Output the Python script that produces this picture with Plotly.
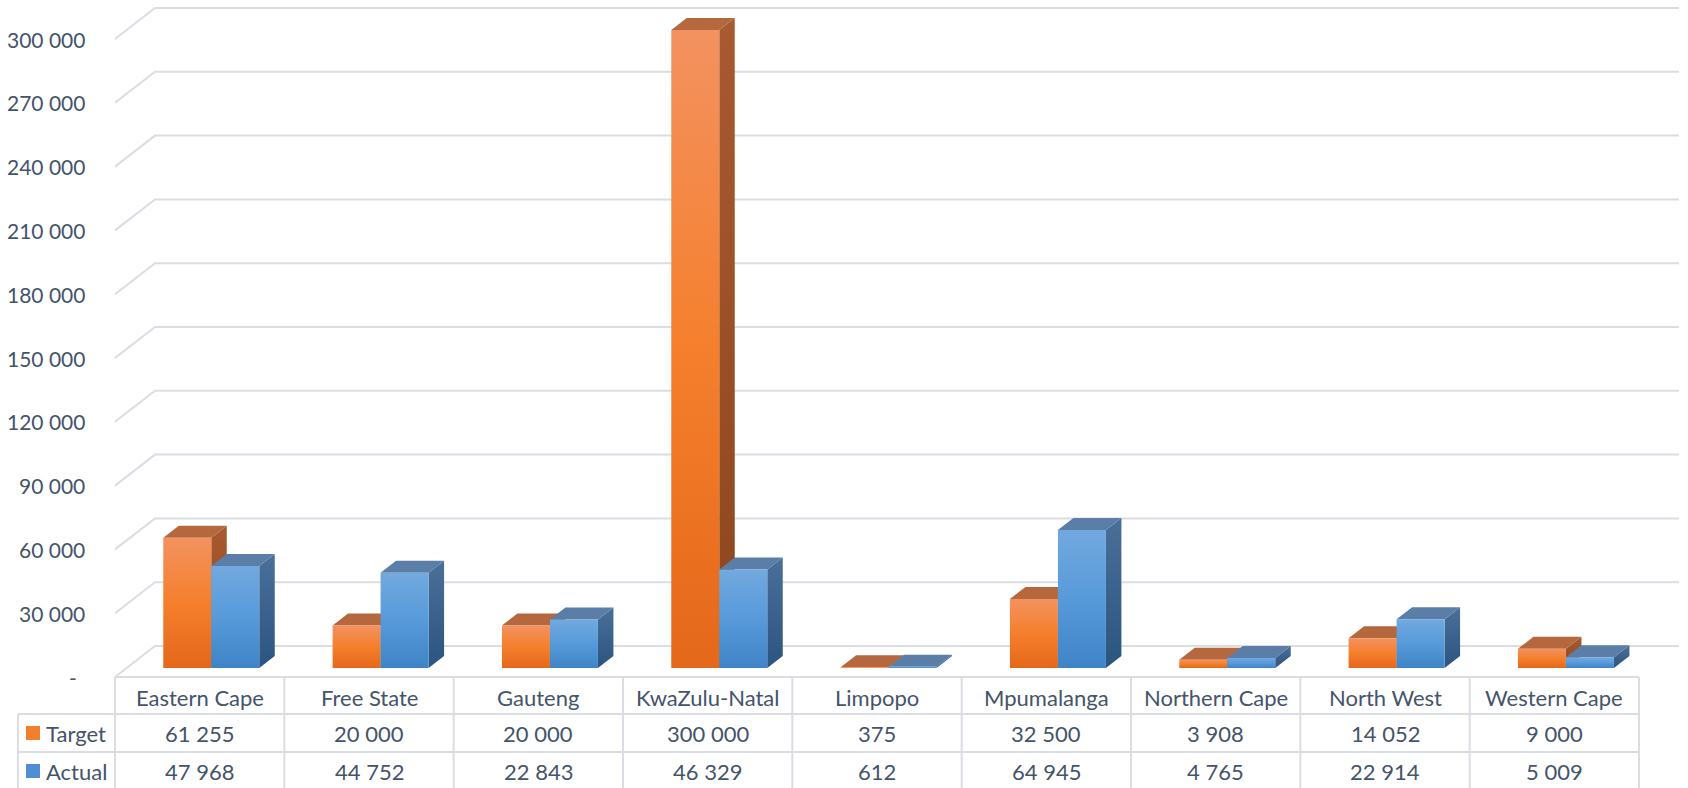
import plotly.graph_objects as go

# Datos del gráfico
categories = ["Eastern Cape", "Free State", "Gauteng", "KwaZulu-Natal", "Limpopo",
              "Mpumalanga", "Northern Cape", "North West", "Western Cape"]
target = [61255, 20000, 20000, 300000, 375, 32500, 3908, 14052, 9000]
actual = [47968, 44752, 22843, 46329, 612, 64945, 4765, 22914, 5009]
y_ticks = [0, 30000, 60000, 90000, 120000, 150000, 180000, 210000, 240000, 270000, 300000]

series = [
    ("Target", target, ["#e4681a", "#f57f2c", "#f39260"], "#b5673e", ["#8c461c", "#a85a30"], "#f07f2e"),
    ("Actual", actual, ["#3f84c7", "#579ada", "#72a9df"], "#5a7ea8", ["#2b5480", "#4a7099"], "#4d8fd2"),
]

W, H = 1688, 788
TXT = "#44546A"
GRID = "#dadde4"
FONT = "Lato"

# Conversión de píxeles a coordenadas de los ejes
PX_COL = (1639 - 115) / 9
X0 = 115
PX_VAL = 63.8 / 30000
Y0 = 677


def ux(px):
    return (px - X0) / PX_COL


def vy(py):
    return (Y0 - py) / PX_VAL


# Profundidad (proyección oblicua)
DX = 40 / PX_COL
DY = 31 / PX_VAL
Z_FRONT = 0.29
DEPTH = 0.387
BAR_W = 48 / PX_COL


def fmt(v):
    return f"{v:,}".replace(",", " ")


fig = go.Figure()

# Líneas de la cuadrícula (pared del fondo y pared izquierda)
gx, gy = [], []
for t in y_ticks:
    gx += [0, DX, len(categories) + DX, None]
    gy += [t, t + DY, t + DY, None]
fig.add_trace(go.Scatter(x=gx, y=gy, mode="lines", line=dict(color=GRID, width=2),
                         hoverinfo="skip", showlegend=False))

# Barras 3D: cara lateral, superior y frontal
bdx, bdy = DEPTH * DX, DEPTH * DY
for i, cat in enumerate(categories):
    for s, (name, vals, front_c, top_c, side_c, _) in enumerate(series):
        v = vals[i]
        xl = i + 0.5 - BAR_W + s * BAR_W + Z_FRONT * DX
        xr = xl + BAR_W
        b = Z_FRONT * DY
        t = b + v
        # lateral
        fig.add_trace(go.Scatter(
            x=[xr, xr + bdx, xr + bdx, xr, xr], y=[b, b + bdy, t + bdy, t, b],
            fill="toself", mode="lines", line=dict(width=0),
            fillgradient=dict(type="vertical", colorscale=[[0, side_c[0]], [1, side_c[1]]]),
            hoverinfo="skip", showlegend=False))
        # superior
        fig.add_trace(go.Scatter(
            x=[xl, xr, xr + bdx, xl + bdx, xl], y=[t, t, t + bdy, t + bdy, t],
            fill="toself", mode="lines", line=dict(width=0), fillcolor=top_c,
            hoverinfo="skip", showlegend=False))
        # frontal
        fig.add_trace(go.Scatter(
            x=[xl, xr, xr, xl, xl], y=[b, b, t, t, b],
            fill="toself", mode="lines", line=dict(width=0),
            fillgradient=dict(type="vertical",
                              colorscale=[[0, front_c[0]], [0.5, front_c[1]], [1, front_c[2]]]),
            hovertext=f"{name} - {cat}: {fmt(v)}", hoverinfo="text", showlegend=False))

shapes = []
annotations = []

# Tabla de datos
n = len(categories)
line = dict(color=GRID, width=2)
shapes.append(dict(type="line", xref="x", yref="y", x0=0, x1=n, y0=vy(677), y1=vy(677), line=line))
for py in (714, 752):
    shapes.append(dict(type="line", xref="x", yref="y", x0=ux(18), x1=n, y0=vy(py), y1=vy(py), line=line))
for k in range(n + 1):
    shapes.append(dict(type="line", xref="x", yref="y", x0=k, x1=k, y0=vy(677), y1=vy(H + 5), line=line))
shapes.append(dict(type="line", xref="x", yref="y", x0=ux(18), x1=ux(18), y0=vy(714), y1=vy(H + 5), line=line))

font = dict(family=FONT, size=22, color=TXT)
for i, cat in enumerate(categories):
    annotations.append(dict(x=i + 0.5, y=vy(697), text=cat, showarrow=False, font=font))
    annotations.append(dict(x=i + 0.5, y=vy(733), text=fmt(target[i]), showarrow=False, font=font))
    annotations.append(dict(x=i + 0.5, y=vy(771), text=fmt(actual[i]), showarrow=False, font=font))

# Claves de la leyenda en la tabla
for (name, vals, front_c, top_c, side_c, key_c), py in zip(series, (733, 771)):
    shapes.append(dict(type="rect", xref="x", yref="y", x0=ux(26), x1=ux(40),
                       y0=vy(py + 7), y1=vy(py - 7), fillcolor=key_c, line=dict(width=0)))
    annotations.append(dict(x=ux(44), y=vy(py), text=name, xanchor="left", showarrow=False, font=font))

# Etiquetas del eje Y
yfont = dict(family=FONT, size=21, color=TXT)
for t in y_ticks:
    if t == 0:
        annotations.append(dict(x=ux(73), y=t, text="-", showarrow=False, font=yfont))
    else:
        annotations.append(dict(x=ux(87), y=t, text=fmt(t), xanchor="right", showarrow=False, font=yfont))

fig.update_layout(
    width=W, height=H,
    margin=dict(l=0, r=0, t=0, b=0),
    paper_bgcolor="white", plot_bgcolor="white",
    xaxis=dict(range=[ux(0), ux(W)], visible=False, fixedrange=True),
    yaxis=dict(range=[vy(H), vy(0)], visible=False, fixedrange=True),
    shapes=shapes,
    annotations=annotations,
    showlegend=False,
)

# Sin margen en la página para que el gráfico ocupe toda la ventana
fig.write_html("out.html", config={"displayModeBar": False},
               post_script="document.body.style.margin='0';document.body.style.overflow='hidden';")
